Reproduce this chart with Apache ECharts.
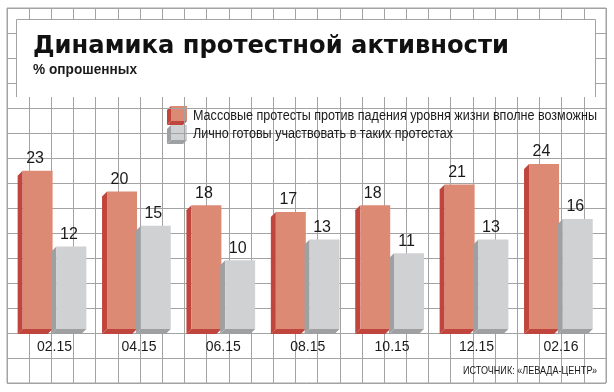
<!DOCTYPE html>
<html>
<head>
<meta charset="utf-8">
<script src="https://cdn.jsdelivr.net/npm/echarts@6/dist/echarts.min.js"></script>
<style>html,body{margin:0;padding:0;background:#fff;}#c{width:614px;height:392px;}</style>
</head>
<body>
<div id="c"></div>
<script>
const categories = ['02.15', '04.15', '06.15', '08.15', '10.15', '12.15', '02.16'];
const massProtests = [23, 20, 18, 17, 18, 21, 24];
const personalReady = [12, 15, 10, 13, 11, 13, 16];
const seriesNames = [
  'Массовые протесты против падения уровня жизни вполне возможны',
  'Лично готовы участвовать в таких протестах'
];
const titleText = 'Динамика протестной активности';
const subtitleText = '% опрошенных';
const sourceText = 'ИСТОЧНИК: «ЛЕВАДА-ЦЕНТР»';

const RED = '#DC8A74', RED_DARK = '#C0453C';
const GRAY = '#D0D1D3', GRAY_DARK = '#9FA0A2';
const LINE = '#A3A3A3';
const INK = '#1a1a1a';

const measureCtx = document.createElement('canvas').getContext('2d');
function fitScale(text, font, target) {
  measureCtx.font = font;
  return target / measureCtx.measureText(text).width;
}

function makeRender(offsetFrac, front, dark) {
  return function (params, api) {
    const idx = api.value(0), v = api.value(1);
    const band = api.size([1, 0])[0];
    const base = api.coord([idx, 0]);
    const top = api.coord([idx, v]);
    const w = band * 0.355;
    const cx = base[0] + band * offsetFrac;
    const x = cx - w / 2;
    const d = 5;
    const y0 = top[1], y1 = base[1];
    return {
      type: 'group',
      children: [
        { type: 'polygon', shape: { points: [[x, y0], [x, y1], [x - d, y1 + d], [x - d, y0 + d]] }, style: { fill: dark } },
        { type: 'polygon', shape: { points: [[x, y1], [x + w, y1], [x + w - d, y1 + d], [x - d, y1 + d]] }, style: { fill: dark } },
        { type: 'rect', shape: { x: x, y: y0, width: w, height: y1 - y0 }, style: { fill: front } },
        { type: 'text', style: { text: String(v), x: cx - d / 2, y: y0 - 4, textAlign: 'center', textVerticalAlign: 'bottom', font: '16px "Liberation Sans", Arial, sans-serif', fill: INK } }
      ]
    };
  };
}

function legendIcon(x, y, front, dark) {
  const w = 16, h = 15, d = 4;
  return {
    type: 'group', z: 110,
    children: [
      { type: 'polygon', shape: { points: [[x, y], [x, y + h], [x - d, y + h + d], [x - d, y + d]] }, style: { fill: dark } },
      { type: 'polygon', shape: { points: [[x, y + h], [x + w, y + h], [x + w - d, y + h + d], [x - d, y + h + d]] }, style: { fill: dark } },
      { type: 'rect', shape: { x: x, y: y, width: w, height: h }, style: { fill: front } }
    ]
  };
}

const TITLE_FONT = 'bold 25px "DejaVu Sans", sans-serif';
const SUB_FONT = 'bold 14px "Liberation Sans", Arial, sans-serif';
const LEG_FONT = '14px "Liberation Sans", Arial, sans-serif';
const SRC_FONT = '11px "Liberation Sans", Arial, sans-serif';
const legScale = fitScale(seriesNames[0], LEG_FONT, 404);
const srcScale = fitScale(sourceText, SRC_FONT, 134);
const titleScale = fitScale(titleText, TITLE_FONT, 476);
const subScale = fitScale(subtitleText, SUB_FONT, 104);

const chart = echarts.init(document.getElementById('c'), null, { renderer: 'canvas' });
chart.setOption({
  animation: false,
  backgroundColor: '#fff',
  grid: [
    { left: 12.3, right: 10.9, top: 122.6, bottom: 63 },
    { left: 7, right: 8, top: 8, bottom: 9, show: true, borderColor: LINE, borderWidth: 1, backgroundColor: '#fff', z: 0 }
  ],
  xAxis: [
    { type: 'category', data: categories, gridIndex: 0, axisLine: { show: false }, axisTick: { show: false },
      axisLabel: { fontSize: 14, color: INK, margin: 11, fontFamily: '"Liberation Sans", Arial, sans-serif' } },
    { type: 'value', gridIndex: 1, min: 0, max: 27, interval: 1, axisLine: { show: false }, axisTick: { show: false }, axisLabel: { show: false },
      splitLine: { show: true, lineStyle: { color: LINE, width: 1 } } }
  ],
  yAxis: [
    { type: 'value', gridIndex: 0, min: 0, max: 30, show: false, splitLine: { show: false } },
    { type: 'value', gridIndex: 1, min: 0, max: 15, interval: 1, axisLine: { show: false }, axisTick: { show: false }, axisLabel: { show: false },
      splitLine: { show: true, lineStyle: { color: LINE, width: 1 } } }
  ],
  series: [
    { type: 'scatter', xAxisIndex: 1, yAxisIndex: 1, data: [], silent: true },
    { type: 'custom', name: seriesNames[0], xAxisIndex: 0, yAxisIndex: 0, z: 5,
      data: massProtests.map((v, i) => [i, v]), encode: { x: 0, y: 1 }, renderItem: makeRender(-0.2, RED, RED_DARK) },
    { type: 'custom', name: seriesNames[1], xAxisIndex: 0, yAxisIndex: 0, z: 6,
      data: personalReady.map((v, i) => [i, v]), encode: { x: 0, y: 1 }, renderItem: makeRender(0.2, GRAY, GRAY_DARK) }
  ],
  graphic: [
    { type: 'rect', z: 100, shape: { x: 16, y: 19, width: 579, height: 78 }, style: { fill: '#fff' } },
    { type: 'polyline', z: 101, shape: { points: [[16.5, 97], [16.5, 19.5], [595.5, 19.5], [595.5, 97]] }, style: { stroke: LINE, lineWidth: 1, fill: null } },
    { type: 'text', z: 102, x: 33, y: 46, scaleX: titleScale, style: { text: titleText, x: 0, y: 0, textVerticalAlign: 'middle', font: TITLE_FONT, fill: '#111' } },
    { type: 'text', z: 102, x: 33, y: 70, scaleX: subScale, style: { text: subtitleText, x: 0, y: 0, textVerticalAlign: 'middle', font: SUB_FONT, fill: INK } },
    legendIcon(171, 106, RED, RED_DARK),
    legendIcon(171, 125, GRAY, GRAY_DARK),
    { type: 'text', z: 110, x: 193, y: 116.5, scaleX: legScale, style: { text: seriesNames[0], x: 0, y: 0, textVerticalAlign: 'middle', font: LEG_FONT, fill: INK } },
    { type: 'text', z: 110, x: 193, y: 134.5, scaleX: legScale, style: { text: seriesNames[1], x: 0, y: 0, textVerticalAlign: 'middle', font: LEG_FONT, fill: INK } },
    { type: 'text', z: 110, x: 597, y: 371, scaleX: srcScale, style: { text: sourceText, x: 0, y: 0, textAlign: 'right', textVerticalAlign: 'middle', font: SRC_FONT, fill: INK } }
  ]
});
</script>
</body>
</html>
